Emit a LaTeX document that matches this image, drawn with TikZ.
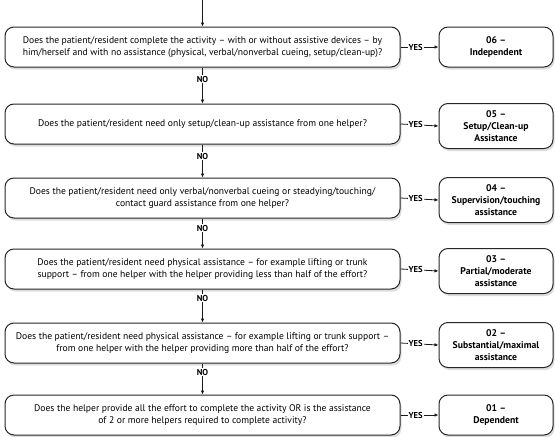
\documentclass[tikz,border=0pt]{standalone}
\usepackage{fontspec}
\setmainfont{PT Sans}
\usetikzlibrary{arrows.meta,shadows}
\begin{document}
\begin{tikzpicture}[x=1pt,y=-1pt,
  softshadow/.style={drop shadow={shadow xshift=1.5pt,shadow yshift=-2.5pt,opacity=0.22,fill=black!60}},
  qbox/.style={draw=black!85,line width=1pt,rounded corners=9pt,fill=white,softshadow,
    minimum width=395pt,minimum height=40pt,align=center,inner sep=2pt,
    font=\fontsize{9.6}{11.8}\selectfont},
  abox/.style={draw=black!85,line width=1pt,rounded corners=9pt,fill=white,softshadow,
    minimum width=114pt,minimum height=40pt,align=center,inner sep=2pt,
    font=\bfseries\fontsize{9.7}{11.8}\selectfont},
  lab/.style={font=\bfseries\fontsize{8.6}{9}\selectfont,inner sep=1pt,fill=white},
  arr/.style={-{Latex[length=4pt,width=3.6pt]},line width=0.8pt,draw=black!90},
  plain/.style={line width=0.8pt,draw=black!90}]
\useasboundingbox (0,0) rectangle (555,437);

\coordinate (start) at (202.5,0);

\node[qbox] (q1) at (202.5,47) {Does the patient/resident complete the activity – with or without assistive devices – by\\him/herself and with no assistance (physical, verbal/nonverbal cueing, setup/clean-up)?};
\node[qbox] (q2) at (202.5,124) {Does the patient/resident need only setup/clean-up assistance from one helper?};
\node[qbox] (q3) at (202.5,198) {Does the patient/resident need only verbal/nonverbal cueing or steadying/touching/\\contact guard assistance from one helper?};
\node[qbox] (q4) at (202.5,269) {Does the patient/resident need physical assistance – for example lifting or trunk\\support – from one helper with the helper providing less than half of the effort?};
\node[qbox] (q5) at (202.5,343) {Does the patient/resident need physical assistance – for example lifting or trunk support –\\from one helper with the helper providing more than half of the effort?};
\node[qbox] (q6) at (202.5,415) {Does the helper provide all the effort to complete the activity OR is the assistance\\of 2 or more helpers required to complete activity?};

\node[abox] (a1) at (496,47) {06 –\\Independent};
\node[abox,minimum height=45pt] (a2) at (496,126) {05 –\\Setup/Clean-up\\Assistance};
\node[abox,minimum height=45pt] (a3) at (496,200) {04 –\\Supervision/touching\\assistance};
\node[abox,minimum height=45pt] (a4) at (496,271) {03 –\\Partial/moderate\\assistance};
\node[abox,minimum height=45pt] (a5) at (496,345) {02 –\\Substantial/maximal\\assistance};
\node[abox] (a6) at (496,415) {01 –\\Dependent};

\node[lab] (n1) at (202.5,79) {NO};
\node[lab] (n2) at (202.5,156) {NO};
\node[lab] (n3) at (202.5,228) {NO};
\node[lab] (n4) at (202.5,298) {NO};
\node[lab] (n5) at (202.5,372) {NO};

\draw[arr] (start) -- (q1.north);
\foreach \i/\j in {1/2,2/3,3/4,4/5,5/6}{
  \draw[plain] (q\i.south) -- (n\i.north);
  \draw[arr] (n\i.south) -- (q\j.north);
}
\foreach \i in {1,...,6}{
  \draw[arr] (q\i.east) -- node[lab,pos=0.4]{YES} (a\i.west);
}
\end{tikzpicture}
\end{document}
